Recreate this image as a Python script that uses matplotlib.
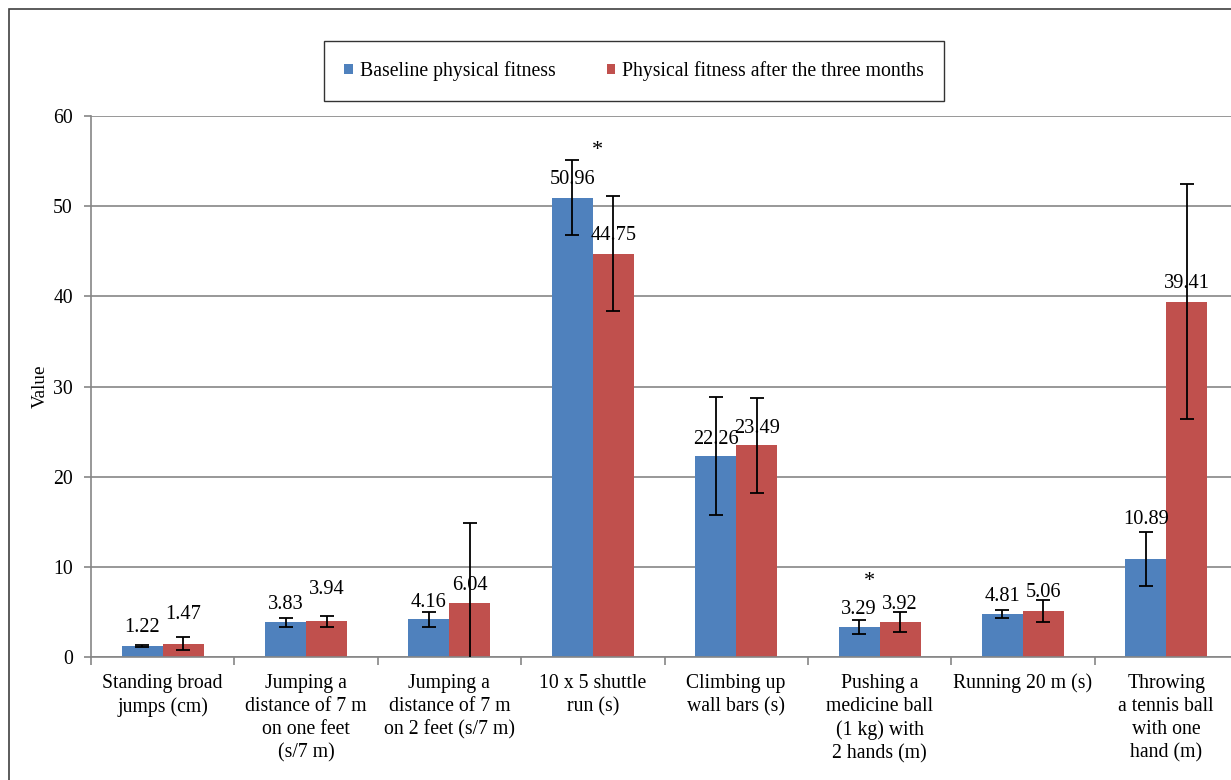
import numpy as np
import matplotlib
matplotlib.use("Agg")
import matplotlib.pyplot as plt
from matplotlib.patches import Rectangle

plt.rcParams["font.family"] = ["Liberation Serif", "DejaVu Serif"]

# data
categories = [
    "Standing broad\njumps (cm)",
    "Jumping a\ndistance of 7 m\non one feet\n(s/7 m)",
    "Jumping a\ndistance of 7 m\non 2 feet (s/7 m)",
    "10 x 5 shuttle\nrun (s)",
    "Climbing up\nwall bars (s)",
    "Pushing a\nmedicine ball\n(1 kg) with\n2 hands (m)",
    "Running 20 m (s)",
    "Throwing\na tennis ball\nwith one\nhand (m)",
]
baseline = [1.22, 3.83, 4.16, 50.96, 22.26, 3.29, 4.81, 10.89]
after = [1.47, 3.94, 6.04, 44.75, 23.49, 3.92, 5.06, 39.41]
baseline_err = [0.15, 0.55, 0.8, 4.2, 6.55, 0.78, 0.44, 3.0]
after_err = [0.7, 0.65, 8.8, 6.35, 5.25, 1.1, 1.23, 13.0]
series_names = ["Baseline physical fitness", "Physical fitness after the three months"]

# label offsets in pixels above bar tops (some labels were moved by hand)
baseline_label_off = [18, 18, 17, 18, 17, 18, 17, 39]
after_label_off = [29, 32, 17, 18, 17, 17, 19, 18]

blue = "#4F81BD"
red = "#C0504D"
grid_gray = "#868686"

fig = plt.figure(figsize=(12.31, 7.8), dpi=100)
ax = fig.add_axes([91 / 1231, 1 - 657 / 780, 1147 / 1231, 541 / 780])

x = np.arange(len(categories)) + 0.5
w = 0.286

b1 = ax.bar(x - w / 2, baseline, w, color=blue, zorder=2, label=series_names[0])
b2 = ax.bar(x + w / 2, after, w, color=red, zorder=2, label=series_names[1])
ax.errorbar(x - w / 2, baseline, yerr=baseline_err, fmt="none", ecolor="black",
            elinewidth=1.3, capsize=5, capthick=1.3, zorder=3)
ax.errorbar(x + w / 2, after, yerr=after_err, fmt="none", ecolor="black",
            elinewidth=1.3, capsize=5, capthick=1.3, zorder=3)

px = 72 / 100  # pixels -> points
for xi, v, off in zip(x - w / 2, baseline, baseline_label_off):
    ax.annotate(f"{v:.2f}", (xi, v), xytext=(0, off * px), textcoords="offset points",
                ha="center", va="center", fontsize=14.7, zorder=4)
for xi, v, off in zip(x + w / 2, after, after_label_off):
    ax.annotate(f"{v:.2f}", (xi, v), xytext=(0, off * px), textcoords="offset points",
                ha="center", va="center", fontsize=14.7, zorder=4)

# significance marks
ax.text(3.53, 56.2, "*", ha="center", va="center", fontsize=16)
ax.text(5.43, 8.4, "*", ha="center", va="center", fontsize=16)

ax.set_xlim(0, len(categories))
ax.set_ylim(0, 60)
ax.set_yticks(range(0, 61, 10))
ax.yaxis.grid(True, color=grid_gray, linewidth=1.2, zorder=0)
ax.set_axisbelow(True)

ax.set_xticks(np.arange(len(categories) + 1))
ax.set_xticklabels([])
ax.set_xticks(x, minor=True)
ax.set_xticklabels(categories, minor=True, fontsize=14.2, linespacing=1.3)
ax.tick_params(axis="x", which="major", length=6, width=1.2, color=grid_gray, direction="out")
ax.tick_params(axis="x", which="minor", length=0, pad=12)
ax.tick_params(axis="y", length=5, width=1.2, color=grid_gray, labelsize=14.2, pad=8)

for s in ["top", "right"]:
    ax.spines[s].set_visible(False)
for s in ["left", "bottom"]:
    ax.spines[s].set_color(grid_gray)
    ax.spines[s].set_linewidth(1.2)

ax.set_ylabel("Value", fontsize=13.8)
ax.yaxis.set_label_coords(-0.037, 0.5)

leg = fig.legend(handles=[b1, b2], loc="center", bbox_to_anchor=(634 / 1231, 1 - 71 / 780),
                 ncol=2, fontsize=14.2, frameon=True, fancybox=False, edgecolor="black",
                 borderpad=1.0, handlelength=0.43, handleheight=0.43,
                 handletextpad=0.35, columnspacing=2.6)
leg.get_frame().set_linewidth(1.0)

# outer frame of the original figure
fig.patches.append(Rectangle((9 / 1231, -0.1), 1.2, 1.1 - 9 / 780,
                             transform=fig.transFigure, fill=False,
                             edgecolor="#404040", linewidth=1.2))

fig.savefig("out.png", dpi=100)
